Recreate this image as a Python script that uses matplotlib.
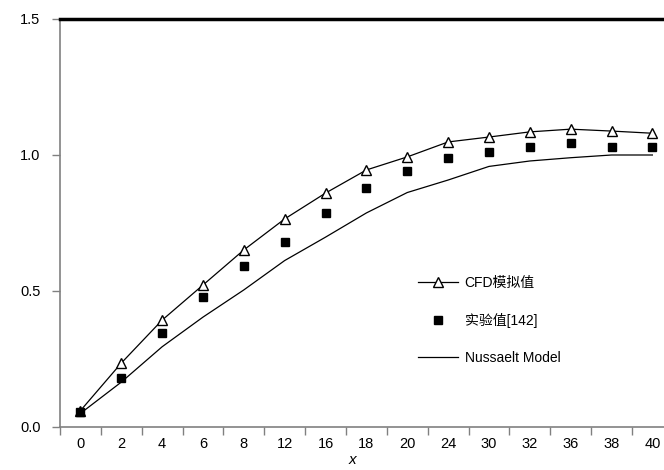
import matplotlib
matplotlib.use("Agg")
import matplotlib.pyplot as plt
from matplotlib.lines import Line2D
import numpy as np

plt.rcParams['font.family'] = ['Liberation Sans', 'Noto Sans CJK SC', 'DejaVu Sans']

categories = ["0", "2", "4", "6", "8", "12", "16", "18", "20", "24", "30", "32", "36", "38", "40"]
cfd = [0.06, 0.235, 0.393, 0.522, 0.651, 0.765, 0.86, 0.945, 0.993, 1.048, 1.066, 1.085, 1.095, 1.088, 1.08]
experiment = [0.055, 0.18, 0.345, 0.478, 0.592, 0.68, 0.787, 0.879, 0.941, 0.989, 1.011, 1.03, 1.044, 1.03, 1.03]
nusselt = [0.05, 0.165, 0.295, 0.404, 0.504, 0.612, 0.698, 0.787, 0.862, 0.908, 0.958, 0.978, 0.99, 1.0, 1.0]
yticks = [0.0, 0.5, 1.0, 1.5]

fig = plt.figure(figsize=(6.64, 4.70), dpi=100)
ax = fig.add_axes([60/664, 43/470, 612.8/664, 408/470])

x = np.arange(len(categories))
ax.plot(x, cfd, color='black', lw=0.9, marker='^', markersize=6.5,
        markerfacecolor='white', markeredgecolor='black', markeredgewidth=1.0, zorder=3)
ax.plot(x, experiment, linestyle='none', marker='s', markersize=6,
        color='black', zorder=3)
ax.plot(x, nusselt, color='black', lw=0.9, zorder=2)

ax.set_xlim(-0.5, len(categories) - 0.5)
ax.set_ylim(0, 1.5)
ax.set_xticks(x)
ax.set_xticklabels(categories, fontsize=10.5)
ax.set_xticks(np.arange(-0.5, len(categories), 1.0), minor=True)
ax.tick_params(axis='x', which='major', length=0, pad=7)
ax.tick_params(axis='x', which='minor', length=6, color='#808080', width=1)
ax.set_yticks(yticks)
ax.set_yticklabels([f"{v:.1f}" for v in yticks], fontsize=10.5)
ax.tick_params(axis='y', length=6, color='#808080', width=1, pad=8)

for s in ['left', 'bottom']:
    ax.spines[s].set_color('#808080')
    ax.spines[s].set_linewidth(1.2)
ax.spines['right'].set_visible(False)
ax.spines['top'].set_color('black')
ax.spines['top'].set_linewidth(2.5)

fig.text(352/664, 1 - 460/470, "x", fontsize=11, style='italic', ha='center', va='center')

handles = [
    Line2D([0], [0], color='black', lw=0.9, marker='^', markersize=6.5,
           markerfacecolor='white', markeredgecolor='black'),
    Line2D([0], [0], linestyle='none', marker='s', markersize=6, color='black'),
    Line2D([0], [0], color='black', lw=0.9),
]
labels = ["CFD模拟值", "实验值[142]", "Nussaelt Model"]
leg = ax.legend(handles, labels, loc='upper left', frameon=False, fontsize=10,
                handlelength=2.9, handletextpad=0.45, labelspacing=1.65,
                borderpad=0, borderaxespad=0)
leg.set_bbox_to_anchor((418/664, (470 - 276)/470), transform=fig.transFigure)

fig.savefig("out.png", dpi=100)
